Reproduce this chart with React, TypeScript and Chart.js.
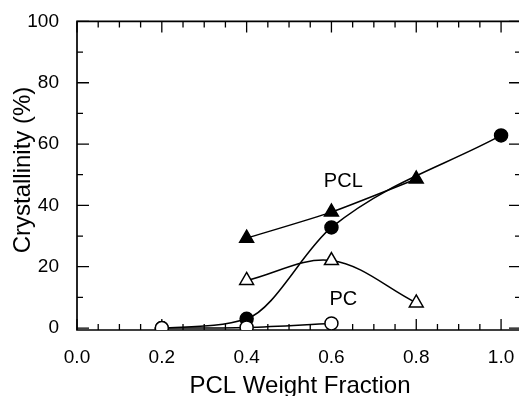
import { useEffect, useRef } from "react";
import { Chart, registerables } from "chart.js";

Chart.register(...registerables);

// Axis ticks
const fractionTicks = [0, 0.2, 0.4, 0.6, 0.8, 1.0];
const fractionMinorStep = 0.05;
const crystallinityTicks = [0, 20, 40, 60, 80, 100];
const crystallinityMinorStep = 10;

// PCL crystallinity (filled markers)
const pclTriangleX = [0.4, 0.6, 0.8];
const pclTriangleY = [29.3, 37.8, 48.6];
const pclCircleX = [0.2, 0.4, 0.6, 1.0];
const pclCircleY = [0, 3, 32.8, 62.8];

// PC crystallinity (open markers)
const pcTriangleX = [0.4, 0.6, 0.8];
const pcTriangleY = [15.5, 22, 8.2];
const pcCircleX = [0.2, 0.4, 0.6];
const pcCircleY = [0, 0.2, 1.5];

const FONT = '"Liberation Sans", Arial, Helvetica, sans-serif';

const toPoints = (xs: number[], ys: number[]) => xs.map((x, i) => ({ x, y: ys[i] }));

const framePlugin = {
  id: "frame",
  beforeDatasetsDraw(chart: any) {
    const { ctx, chartArea } = chart;
    const xs = chart.scales.x;
    const ys = chart.scales.y;
    const { left, right, top, bottom } = chartArea;
    ctx.save();
    ctx.strokeStyle = "#000";
    ctx.lineWidth = 1.7;
    ctx.beginPath();
    ctx.rect(left, top, right - left, bottom - top);
    ctx.stroke();

    ctx.lineWidth = 1.3;
    ctx.beginPath();
    // x ticks, inward on bottom and top
    for (let i = 0; ; i++) {
      const val = Math.round(i * fractionMinorStep * 100) / 100;
      if (val > xs.max) break;
      const px = xs.getPixelForValue(val);
      const major = fractionTicks.some((t) => Math.abs(t - val) < 1e-6);
      const len = major ? 11 : 6;
      ctx.moveTo(px, bottom);
      ctx.lineTo(px, bottom - len);
      ctx.moveTo(px, top);
      ctx.lineTo(px, top + len);
    }
    // y ticks, inward on left and right
    for (let v = 0; v <= 100; v += crystallinityMinorStep) {
      const py = ys.getPixelForValue(v);
      const major = crystallinityTicks.includes(v);
      const len = major ? 12 : 6;
      ctx.moveTo(left, py);
      ctx.lineTo(left + len, py);
      ctx.moveTo(right, py);
      ctx.lineTo(right - len, py);
    }
    ctx.stroke();
    ctx.restore();
  },
  afterDraw(chart: any) {
    const { ctx } = chart;
    const xs = chart.scales.x;
    const ys = chart.scales.y;
    ctx.save();
    ctx.fillStyle = "#000";

    // axis titles
    ctx.font = `24px ${FONT}`;
    ctx.textAlign = "center";
    ctx.textBaseline = "alphabetic";
    ctx.fillText("PCL Weight Fraction", 300, 393);

    ctx.save();
    ctx.translate(30, 170);
    ctx.rotate(-Math.PI / 2);
    ctx.fillText("Crystallinity (%)", 0, 0);
    ctx.restore();

    // series labels
    ctx.font = `20px ${FONT}`;
    ctx.fillText("PCL", xs.getPixelForValue(0.628), ys.getPixelForValue(46));
    ctx.fillText("PC", xs.getPixelForValue(0.628), ys.getPixelForValue(7.4));
    ctx.restore();
  },
};

export default function App() {
  const canvasRef = useRef<HTMLCanvasElement | null>(null);

  useEffect(() => {
    if (!canvasRef.current) return;
    const common = {
      showLine: true,
      borderColor: "#000",
      borderWidth: 1.5,
      tension: 0.35,
      pointBorderColor: "#000",
      pointBorderWidth: 1.5,
    };
    const chart = new Chart(canvasRef.current, {
      type: "scatter",
      data: {
        datasets: [
          {
            ...common,
            label: "PC (triangles)",
            data: toPoints(pcTriangleX, pcTriangleY),
            pointStyle: "triangle",
            pointRadius: 8,
            pointBackgroundColor: "#fff",
          },
          {
            ...common,
            label: "PC (circles)",
            data: toPoints(pcCircleX, pcCircleY),
            pointStyle: "circle",
            pointRadius: 6.5,
            pointBackgroundColor: "#fff",
          },
          {
            ...common,
            label: "PCL (circles)",
            data: toPoints(pclCircleX, pclCircleY),
            cubicInterpolationMode: "monotone",
            pointStyle: "circle",
            pointRadius: 6.5,
            pointBackgroundColor: "#000",
          },
          {
            ...common,
            label: "PCL (triangles)",
            data: toPoints(pclTriangleX, pclTriangleY),
            tension: 0.2,
            pointStyle: "triangle",
            pointRadius: 8,
            pointBackgroundColor: "#000",
          },
        ],
      },
      options: {
        animation: false,
        responsive: true,
        maintainAspectRatio: false,
        layout: { padding: { left: 0, top: 17.5, right: 2, bottom: 0 }, autoPadding: false },
        plugins: { legend: { display: false }, tooltip: { enabled: false } },
        scales: {
          x: {
            type: "linear",
            min: 0,
            max: 1.047,
            grid: { display: false },
            border: { display: false },
            afterBuildTicks: (scale: any) => {
              scale.ticks = fractionTicks.map((value) => ({ value }));
            },
            afterFit: (scale: any) => {
              scale.height = 66;
            },
            ticks: {
              color: "#000",
              font: { family: FONT, size: 19 },
              padding: 8,
              maxRotation: 0,
              callback: (v: any) => Number(v).toFixed(1),
            },
          },
          y: {
            type: "linear",
            min: -0.644,
            max: 100,
            grid: { display: false },
            border: { display: false },
            afterBuildTicks: (scale: any) => {
              scale.ticks = crystallinityTicks.map((value) => ({ value }));
            },
            afterFit: (scale: any) => {
              scale.width = 77;
            },
            ticks: {
              color: "#000",
              font: { family: FONT, size: 19 },
              padding: 10,
              callback: (v: any) => String(v),
            },
          },
        },
      },
      plugins: [framePlugin],
    });
    return () => chart.destroy();
  }, []);

  return (
    <div
      style={{
        position: "fixed",
        left: 0,
        top: 0,
        width: 519,
        height: 396,
        overflow: "hidden",
        background: "#fff",
      }}
    >
      <div style={{ position: "relative", width: 523, height: 396 }}>
        <canvas ref={canvasRef} />
      </div>
    </div>
  );
}
